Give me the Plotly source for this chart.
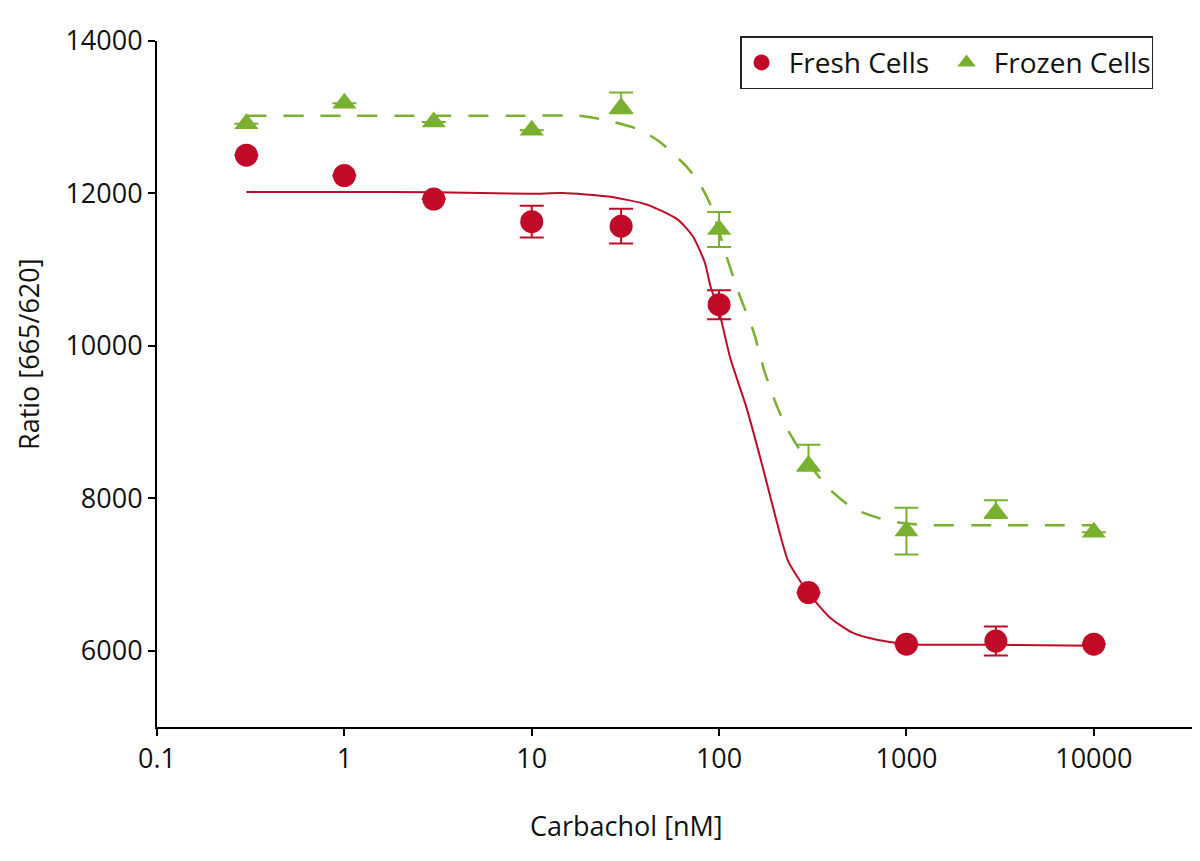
import plotly.graph_objects as go

# Konzentrationen (nM)
conc = [0.3, 1, 3, 10, 30, 100, 300, 1000, 3000, 10000]

# Fresh Cells - Mittelwerte und Fehler
fresh_y = [12502, 12235, 11927, 11630, 11571, 10540, 6763, 6087, 6127, 6087]
fresh_err = [None, None, None, 209, 229, 190, None, None, 190, None]

# Frozen Cells - Mittelwerte und Fehler (nach oben / nach unten)
frozen_y = [12915, 13182, 12937, 12830, 13123, 11528, 8431, 7571, 7813, 7555]
frozen_err_up = [None, None, None, None, 202, 229, 271, 307, 161, None]
frozen_err_down = [None, None, None, None, 70, 229, 70, 307, 70, None]

# Fitkurven
fresh_fit_x = [0.3, 1, 3, 10, 14.6, 25.8, 41.4, 60.2, 72.4, 83.9, 90, 100, 115,
               139, 168, 203, 234, 298, 394, 522, 695, 1014, 3038, 10000]
fresh_fit_y = [12020, 12020, 12015, 11996, 12005, 11960, 11852, 11656, 11438,
               11094, 10780, 10450, 9830, 9216, 8480, 7695, 7172, 6767, 6427,
               6231, 6144, 6087, 6078, 6065]

frozen_fit_x = [0.3, 1, 3, 10, 18, 24.5, 38, 48, 67, 80, 90, 110, 127, 153, 175,
                203, 228, 296, 394, 522, 781, 1014, 1285, 3000, 10000]
frozen_fit_y = [13020, 13020, 13020, 13020, 13020, 12965, 12833, 12680, 12353,
                12100, 11850, 11160, 10700, 10180, 9660, 9216, 8937, 8480, 8105,
                7865, 7712, 7669, 7650, 7647, 7647]

x_ticks = [0.1, 1, 10, 100, 1000, 10000]
x_ticktext = ['0.1', '1', '10', '100', '1000', '10000']
y_ticks = [6000, 8000, 10000, 12000, 14000]
y_ticktext = ['6000', '8000', '10000', '12000', '14000']

RED = '#C00A28'
GREEN = '#7AB030'
FONT = 'Open Sans'
NBSP = '\u00a0'


def clean(vals):
    return [float('nan') if v is None else v for v in vals]


fig = go.Figure()

fig.add_trace(go.Scatter(x=fresh_fit_x, y=fresh_fit_y, mode='lines',
                         line=dict(color=RED, width=2, shape='spline', smoothing=0.6),
                         showlegend=False, hoverinfo='skip'))
fig.add_trace(go.Scatter(x=frozen_fit_x, y=frozen_fit_y, mode='lines',
                         line=dict(color=GREEN, width=2.5, dash='20px,17px',
                                   shape='spline', smoothing=0.6),
                         showlegend=False, hoverinfo='skip'))

fig.add_trace(go.Scatter(x=conc, y=fresh_y, mode='markers',
                         name=NBSP + 'Fresh Cells',
                         marker=dict(symbol='circle', size=23, color=RED),
                         error_y=dict(type='data', array=clean(fresh_err),
                                      color=RED, thickness=2, width=12)))
fig.add_trace(go.Scatter(x=conc, y=frozen_y, mode='markers',
                         name=NBSP + 'Frozen Cells',
                         marker=dict(symbol='triangle-up', size=21, color=GREEN),
                         error_y=dict(type='data', symmetric=False,
                                      array=clean(frozen_err_up),
                                      arrayminus=clean(frozen_err_down),
                                      color=GREEN, thickness=2, width=12)))

# Seite hat 8px Rand -> Figur etwas kleiner, Ränder angepasst
fig.update_layout(
    width=1192, height=853,
    margin=dict(l=149, r=5, t=33, b=134),
    plot_bgcolor='white', paper_bgcolor='white',
    font=dict(family=FONT, size=27, color='#111111'),
    xaxis=dict(type='log', range=[-1, 4.54], tickvals=x_ticks, ticktext=x_ticktext,
               showgrid=False, zeroline=False, showline=True, linecolor='black',
               linewidth=2, ticks='outside', ticklen=7, tickwidth=2, tickcolor='black'),
    yaxis=dict(range=[5000, 14000], tickvals=y_ticks, ticktext=y_ticktext,
               showgrid=False, zeroline=False,
               showline=True, linecolor='black', linewidth=2, ticks='outside',
               ticklen=7, tickwidth=2, tickcolor='black'),
    legend=dict(orientation='h', x=0.5617, xanchor='left', y=1.007, yanchor='top',
                bordercolor='#222222', borderwidth=1.5, bgcolor='white',
                font=dict(size=28), entrywidth=160),
    annotations=[
        dict(text='Ratio [665/620]', xref='paper', yref='paper', x=-0.1243, y=0.5437,
             xanchor='center', yanchor='middle', textangle=-90, showarrow=False,
             font=dict(size=27)),
        dict(text='Carbachol [nM]', xref='paper', yref='paper', x=0.4523, y=-0.1443,
             xanchor='center', yanchor='middle', showarrow=False, font=dict(size=27)),
    ],
)

fig.write_html('out.html')
